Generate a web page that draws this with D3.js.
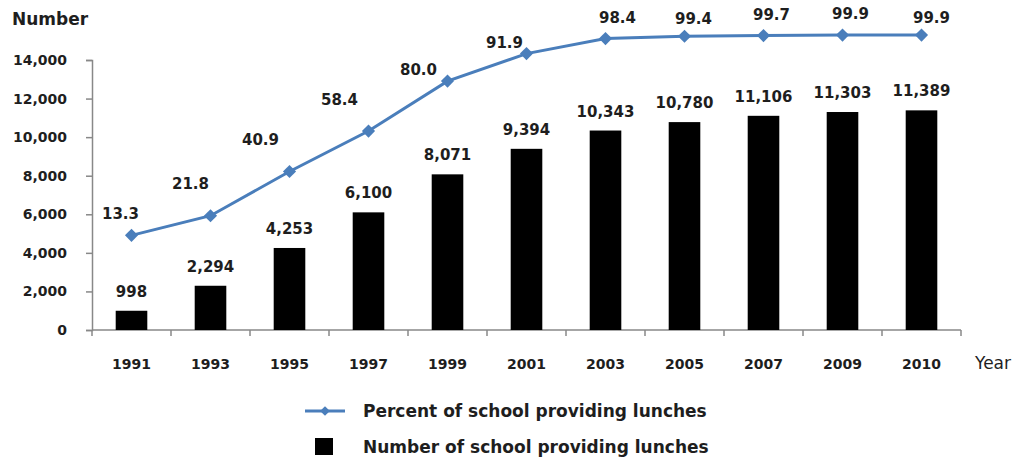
<!DOCTYPE html>
<html>
<head>
<meta charset="utf-8">
<script src="https://cdn.jsdelivr.net/npm/d3@7"></script>
<style>
  body { margin: 0; background: #fff; }
  text { font-family: "DejaVu Sans", sans-serif; }
</style>
</head>
<body>
<svg id="chart" width="1016" height="459"></svg>
<script>
// 数据
const years = ['1991', '1993', '1995', '1997', '1999', '2001', '2003', '2005', '2007', '2009', '2010'];
const schools = [998, 2294, 4253, 6100, 8071, 9394, 10343, 10780, 11106, 11303, 11389];
const percents = [13.3, 21.8, 40.9, 58.4, 80.0, 91.9, 98.4, 99.4, 99.7, 99.9, 99.9];
const yTicks = [0, 2000, 4000, 6000, 8000, 10000, 12000, 14000];

const svg = d3.select('#chart');
const blue = '#4a7ebb';
const textColor = '#1e1e1e';
const font = '"DejaVu Sans", sans-serif';

const x = d3.scaleBand().domain(years).range([92, 961]).paddingInner(0.6).paddingOuter(0.3);
const y = d3.scaleLinear().domain([0, 14000]).range([330, 60]);
// 百分比用隐藏的副轴
const yPct = d3.scaleLinear().domain([0, 100]).range([y(3313), y(15303)]);

// y 轴
const yAxis = svg.append('g')
    .attr('transform', 'translate(92,0)')
    .call(d3.axisLeft(y).tickValues(yTicks).tickSize(6).tickPadding(19).tickFormat(d3.format(',')));
yAxis.select('.domain').attr('stroke', '#888').attr('stroke-width', 1.5);
yAxis.selectAll('.tick line').attr('stroke', '#888').attr('stroke-width', 1.5);
yAxis.selectAll('.tick text')
    .attr('font-size', 14).attr('font-weight', 'bold').attr('fill', textColor)
    .attr('font-family', font);

// x 轴线和分隔刻度
svg.append('line')
    .attr('x1', 92).attr('x2', 961).attr('y1', y(0)).attr('y2', y(0))
    .attr('stroke', '#888').attr('stroke-width', 1.5);
svg.selectAll('.xtick')
    .data(d3.range(years.length + 1))
    .join('line')
    .attr('class', 'xtick')
    .attr('x1', i => 92 + i * (869 / years.length))
    .attr('x2', i => 92 + i * (869 / years.length))
    .attr('y1', y(0)).attr('y2', y(0) + 6)
    .attr('stroke', '#888').attr('stroke-width', 1.5);

svg.selectAll('.xlabel')
    .data(years)
    .join('text')
    .attr('class', 'xlabel')
    .attr('x', d => x(d) + x.bandwidth() / 2)
    .attr('y', 369)
    .attr('text-anchor', 'middle')
    .attr('font-size', 14).attr('font-weight', 'bold').attr('fill', textColor)
    .text(d => d);

// 柱子
svg.selectAll('.bar')
    .data(schools)
    .join('rect')
    .attr('class', 'bar')
    .attr('x', (d, i) => x(years[i]))
    .attr('width', x.bandwidth())
    .attr('y', d => y(d))
    .attr('height', d => y(0) - y(d))
    .attr('fill', '#000');

svg.selectAll('.barlabel')
    .data(schools)
    .join('text')
    .attr('class', 'barlabel')
    .attr('x', (d, i) => x(years[i]) + x.bandwidth() / 2)
    .attr('y', d => y(d) - 14)
    .attr('text-anchor', 'middle')
    .attr('font-size', 15).attr('font-weight', 'bold').attr('fill', textColor)
    .text(d => d3.format(',')(d));

// 折线
const cx = i => x(years[i]) + x.bandwidth() / 2;
svg.append('path')
    .attr('d', d3.line().x((d, i) => cx(i)).y(d => yPct(d))(percents))
    .attr('fill', 'none')
    .attr('stroke', blue)
    .attr('stroke-width', 3);

svg.selectAll('.marker')
    .data(percents)
    .join('path')
    .attr('class', 'marker')
    .attr('d', d3.symbol().type(d3.symbolDiamond2).size(110))
    .attr('transform', (d, i) => `translate(${cx(i)},${yPct(d)})`)
    .attr('fill', blue);

// 标签微调 [dx, dy]
const pctLabelShift = [[-11, -16], [-20, -27], [-29, -27], [-29, -26], [-29, -6], [-22, -6],
                       [12, -16], [9, -12], [8, -16], [8, -16], [10, -12]];
svg.selectAll('.pctlabel')
    .data(percents)
    .join('text')
    .attr('class', 'pctlabel')
    .attr('x', (d, i) => cx(i) + pctLabelShift[i][0])
    .attr('y', (d, i) => yPct(d) + pctLabelShift[i][1])
    .attr('text-anchor', 'middle')
    .attr('font-size', 15).attr('font-weight', 'bold').attr('fill', textColor)
    .text(d => d.toFixed(1));

// 轴标题
svg.append('text')
    .attr('x', 12).attr('y', 25)
    .attr('font-size', 17).attr('font-weight', 'bold').attr('fill', textColor)
    .text('Number');
svg.append('text')
    .attr('x', 975).attr('y', 369)
    .attr('font-size', 17).attr('fill', textColor)
    .text('Year');

// 图例
const lg = svg.append('g');
lg.append('line')
    .attr('x1', 305).attr('x2', 345).attr('y1', 411).attr('y2', 411)
    .attr('stroke', blue).attr('stroke-width', 3);
lg.append('path')
    .attr('d', d3.symbol().type(d3.symbolDiamond2).size(60))
    .attr('transform', 'translate(325,411)')
    .attr('fill', blue);
lg.append('text')
    .attr('x', 363).attr('y', 417)
    .attr('font-size', 17).attr('font-weight', 'bold').attr('fill', textColor)
    .text('Percent of school providing lunches');
lg.append('rect')
    .attr('x', 315).attr('y', 438).attr('width', 18).attr('height', 17)
    .attr('fill', '#000');
lg.append('text')
    .attr('x', 363).attr('y', 453)
    .attr('font-size', 17).attr('font-weight', 'bold').attr('fill', textColor)
    .text('Number of school providing lunches');
</script>
</body>
</html>
